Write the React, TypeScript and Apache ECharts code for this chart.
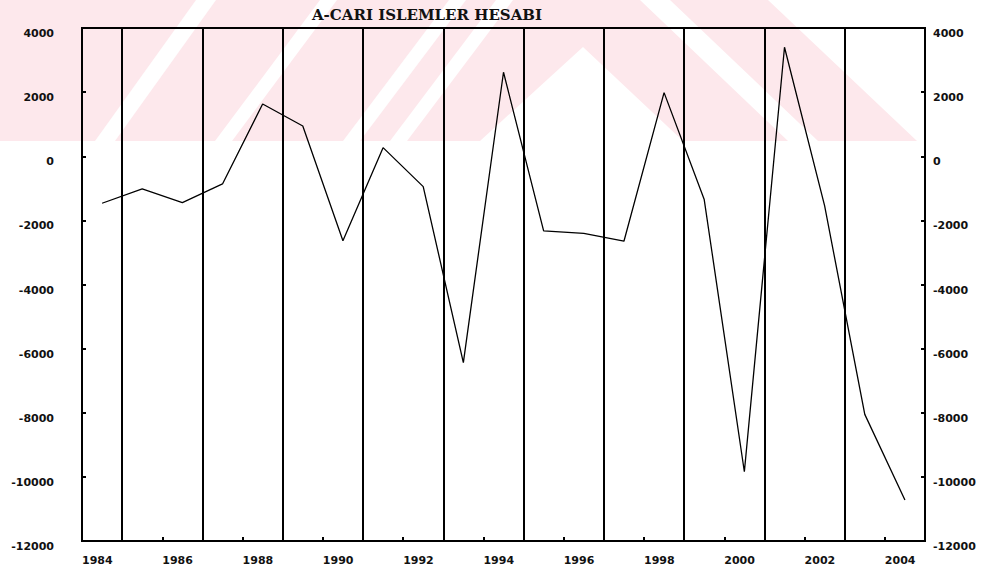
import React, { useEffect, useRef } from "react";
import * as echarts from "echarts";

const years: number[] = [1984, 1985, 1986, 1987, 1988, 1989, 1990, 1991, 1992, 1993, 1994, 1995, 1996, 1997, 1998, 1999, 2000, 2001, 2002, 2003, 2004];
const cariIslemler: number[] = [-1466, -1020, -1447, -864, 1631, 945, -2633, 268, -948, -6438, 2620, -2330, -2408, -2650, 1984, -1350, -9840, 3400, -1550, -8050, -10720];
const breakYears: number[] = [1985, 1987, 1989, 1991, 1993, 1995, 1997, 1999, 2001, 2003];
const yTicks = { min: -12000, max: 4000, interval: 2000 };
const xRange = { min: 1984, max: 2005, interval: 2 };
const titleText = "A-CARI ISLEMLER HESABI";

const PINK = "#fde8ec";

function poly(points: number[][], fill: string) {
  return { type: "polygon", z: -10, silent: true, shape: { points }, style: { fill } };
}

export default function App() {
  const ref = useRef<HTMLDivElement>(null);
  useEffect(() => {
    document.body.style.margin = "0";
    if (!ref.current) return;
    const chart = echarts.init(ref.current, undefined, { renderer: "svg" });
    const labelFont = { fontFamily: "DejaVu Sans", fontWeight: "bold" as const, fontSize: 11, color: "#111" };
    const yAxisCommon = {
      type: "value" as const,
      min: yTicks.min,
      max: yTicks.max,
      interval: yTicks.interval,
      splitLine: { show: false },
      axisLine: { show: true, onZero: false, lineStyle: { color: "#000", width: 2 } },
      axisTick: { show: true, inside: true, length: 4, lineStyle: { color: "#000", width: 2 } },
    };
    chart.setOption({
      animation: false,
      backgroundColor: "#fff",
      graphic: [
        poly([[0, 0], [768, 0], [917, 141], [0, 141]], PINK),
        poly([[95, 141], [115, 141], [216, 0], [196, 0]], "#fff"),
        poly([[215, 141], [232, 141], [337, 0], [320, 0]], "#fff"),
        poly([[343, 141], [360, 141], [466, 0], [449, 0]], "#fff"),
        poly([[390, 141], [407, 141], [513, 0], [496, 0]], "#fff"),
        poly([[480, 141], [583, 47], [683, 141]], "#fff"),
        poly([[640, 0], [670, 0], [818, 141], [788, 141]], "#fff"),
        {
          type: "text",
          x: 427,
          y: 15,
          z: 10,
          style: {
            text: titleText,
            textAlign: "center",
            textVerticalAlign: "middle",
            fontFamily: "DejaVu Serif",
            fontWeight: "bold",
            fontSize: 15,
            fill: "#111",
          },
        },
      ],
      grid: {
        left: 82,
        right: 57,
        top: 28,
        bottom: 28,
        show: true,
        borderColor: "#000",
        borderWidth: 2,
        backgroundColor: "transparent",
      },
      xAxis: {
        type: "value",
        min: xRange.min,
        max: xRange.max,
        interval: xRange.interval,
        splitLine: { show: false },
        axisLine: { show: true, onZero: false, lineStyle: { color: "#000", width: 2 } },
        axisTick: { show: true, inside: true, length: 4, lineStyle: { color: "#000", width: 2 } },
        axisLabel: { ...labelFont, align: "left", margin: 14, showMaxLabel: false, formatter: (v: number) => String(v) },
      },
      yAxis: [
        {
          ...yAxisCommon,
          position: "left",
          axisLabel: { ...labelFont, margin: 28, verticalAlign: "top", formatter: (v: number) => String(v) },
        },
        {
          ...yAxisCommon,
          position: "right",
          axisLabel: { ...labelFont, margin: 8, verticalAlign: "top", formatter: (v: number) => String(v) },
        },
      ],
      series: [
        {
          type: "line",
          data: years.map((y, i) => [y + 0.5, cariIslemler[i]]),
          showSymbol: false,
          symbol: "none",
          lineStyle: { color: "#000", width: 1.3 },
          z: 3,
          markLine: {
            silent: true,
            symbol: ["none", "none"],
            label: { show: false },
            lineStyle: { color: "#000", width: 2, type: "solid" },
            data: breakYears.map((b) => ({ xAxis: b })),
          },
        },
      ],
    });
    return () => chart.dispose();
  }, []);
  return <div ref={ref} style={{ width: 982, height: 569 }} />;
}
